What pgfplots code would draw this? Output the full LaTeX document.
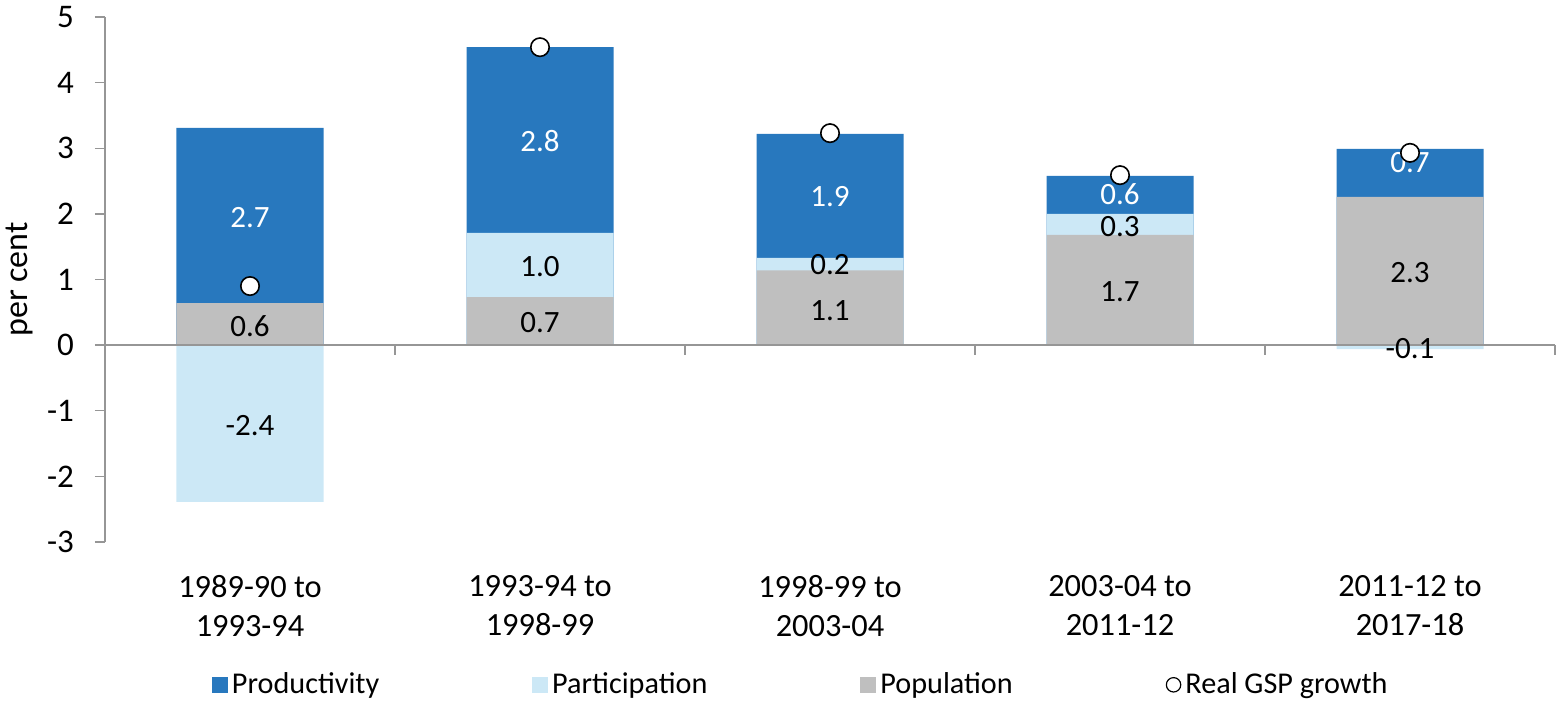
\documentclass[border=0pt]{standalone}
\usepackage{pgfplots}
\pgfplotsset{compat=1.18}
\usepackage{fontspec}
\setmainfont{Carlito}
\definecolor{prod}{RGB}{40,120,190}
\definecolor{part}{RGB}{204,232,246}
\definecolor{popl}{RGB}{191,191,191}
\definecolor{axgray}{RGB}{150,150,150}
\begin{document}
\begin{tikzpicture}
\begin{axis}[
  name=ax, scale only axis, width=725pt, height=262.5pt,
  xmin=-0.5, xmax=4.5, ymin=-3, ymax=5,
  ytick={-3,-2,...,5},
  xtick={0,1,2,3,4},
  xticklabels={{1989-90 to\\1993-94},{1993-94 to\\1998-99},{1998-99 to\\2003-04},{2003-04 to\\2011-12},{2011-12 to\\2017-18}},
  xticklabel style={align=center, font=\fontsize{16.2}{19.5}\selectfont, yshift=-8pt},
  yticklabel style={font=\fontsize{16.5}{18}\selectfont, xshift=-7pt},
  /pgf/number format/assume math mode=true,
  axis lines*=left,
  x axis line style={draw=none},
  y axis line style={axgray, line width=0.7pt},
  xtick style={draw=none},
  ytick style={axgray, line width=0.7pt},
  tick align=outside, major tick length=5pt,
  ylabel={per cent},
  ylabel style={font=\fontsize{17}{19}\selectfont, yshift=0pt},
  legend columns=4,
  legend style={draw=none, fill=none, at={(0.0735,-0.272)}, anchor=west, inner sep=0pt,
    font=\fontsize{15.1}{17}\selectfont,
    /tikz/every even column/.append style={column sep=74.5pt}},
  legend cell align=left,
  clip=false,
]
\addplot[ybar, bar width=73.5pt, bar shift=0pt, fill=prod, draw=none,
  legend image code/.code={\fill[prod] (0pt,-4pt) rectangle (8pt,4pt);}]
  coordinates {(0,3.31) (1,4.54) (2,3.22) (3,2.58) (4,2.99)};
\addlegendentry{Productivity}
\addplot[ybar, bar width=73.5pt, bar shift=0pt, fill=part, draw=none,
  legend image code/.code={\fill[part] (0pt,-4pt) rectangle (8pt,4pt);}]
  coordinates {(0,-2.39) (1,1.71) (2,1.33) (3,2.00) (4,-0.06)};
\addlegendentry{Participation}
\addplot[ybar, bar width=73.5pt, bar shift=0pt, fill=popl, draw=none,
  legend image code/.code={\fill[popl] (0pt,-4pt) rectangle (8pt,4pt);}]
  coordinates {(0,0.64) (1,0.73) (2,1.14) (3,1.68) (4,2.26)};
\addlegendentry{Population}
% zero line and category boundary ticks
\draw[axgray, line width=0.7pt] (axis cs:-0.5,0) -- (axis cs:4.5,0);
\pgfplotsinvokeforeach{0.5,1.5,2.5,3.5,4.5}{
  \draw[axgray, line width=0.7pt] (axis cs:#1,0) -- ([yshift=-5pt]axis cs:#1,0);
}
% data labels
\addplot[only marks, mark=none, forget plot, nodes near coords, point meta=explicit symbolic,
  every node near coord/.append style={anchor=center, text=white, font=\fontsize{15.5}{17}\selectfont}]
  table[meta=lab] {
x y lab
0 1.94 2.7
1 3.11 2.8
2 2.26 1.9
3 2.30 0.6
4 2.78 0.7
};
\addplot[only marks, mark=none, forget plot, nodes near coords, point meta=explicit symbolic,
  every node near coord/.append style={anchor=center, text=black, font=\fontsize{15.5}{17}\selectfont}]
  table[meta=lab] {
x y lab
0 0.29 0.6
0 -1.22 -2.4
1 1.20 1.0
1 0.35 0.7
2 1.22 0.2
2 0.53 1.1
3 1.81 0.3
3 0.81 1.7
4 1.11 2.3
4 -0.05 -0.1
};
\addplot[only marks, mark=*, mark size=4.6pt, mark options={fill=white, draw=black, line width=0.8pt},
  legend image code/.code={\draw[black, fill=white, line width=0.6pt] (3.8pt,0pt) circle (3.6pt);}]
  coordinates {(0,0.90) (1,4.54) (2,3.23) (3,2.59) (4,2.93)};
\addlegendentry{Real GSP growth}
\end{axis}
\path (ax.south west) ++(-52.5pt,-79.5pt) coordinate (bl);
\path (ax.north east) ++(3.5pt,8.5pt) coordinate (tr);
\pgfresetboundingbox
\useasboundingbox (bl) rectangle (tr);
\end{tikzpicture}
\end{document}
